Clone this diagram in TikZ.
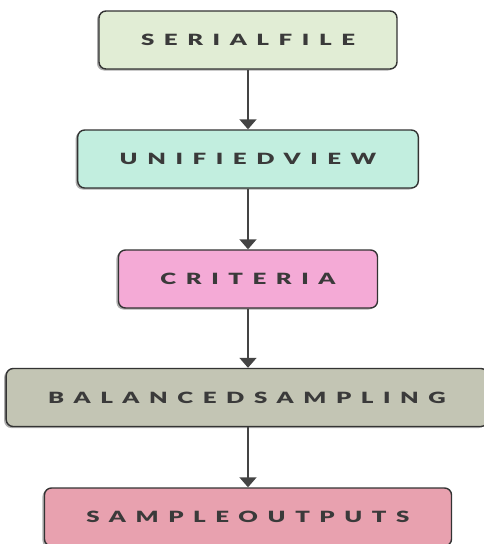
\documentclass[tikz,border=0pt]{standalone}
\usepackage{fontspec}
\usepackage{graphicx}
\setmainfont{Lato}
\newfontfamily\boxfont[LetterSpace=40]{Lato Black}
\newcommand{\stagetext}[1]{\scalebox{1.55}[1.0]{#1}}
\usetikzlibrary{arrows.meta,shadows}
\definecolor{cSerial}{HTML}{E1EDD5}
\definecolor{cUnified}{HTML}{C2EEDF}
\definecolor{cCriteria}{HTML}{F4AAD6}
\definecolor{cBalanced}{HTML}{C3C5B4}
\definecolor{cSample}{HTML}{E8A1AF}
\definecolor{cText}{HTML}{3A3A3A}
\definecolor{cEdge}{HTML}{333333}
\definecolor{cArrow}{HTML}{444444}
\begin{document}
\begin{tikzpicture}[x=1pt,y=-1pt,
  stagebox/.style={draw=cEdge, line width=1.4pt, rounded corners=7pt,
    minimum height=58pt, inner xsep=42pt, text=cText,
    drop shadow={shadow xshift=-2pt, shadow yshift=-1.5pt, opacity=0.45, fill=black!70},
    font=\boxfont\fontsize{15.5}{17}\selectfont},
  flow/.style={draw=cArrow, line width=1.6pt,
    -{Triangle[width=17pt,length=10pt]}}]
\useasboundingbox (0,0) rectangle (483,544);
\node[stagebox, fill=cSerial]   (serial)   at (248,40)    {\stagetext{SERIALFILE}};
\node[stagebox, fill=cUnified]  (unified)  at (248,159)   {\stagetext{UNIFIEDVIEW}};
\node[stagebox, fill=cCriteria] (criteria) at (248,279)   {\stagetext{CRITERIA}};
\node[stagebox, fill=cBalanced] (balanced) at (247,397.5) {\stagetext{BALANCEDSAMPLING}};
\node[stagebox, fill=cSample]   (sample)   at (248,517)   {\stagetext{SAMPLEOUTPUTS}};
\draw[flow] (serial.south) -- (serial.south |- unified.north);
\draw[flow] (unified.south) -- (unified.south |- criteria.north);
\draw[flow] (criteria.south) -- (criteria.south |- balanced.north);
\draw[flow] (criteria.south |- balanced.south) -- (criteria.south |- sample.north);
\end{tikzpicture}
\end{document}
